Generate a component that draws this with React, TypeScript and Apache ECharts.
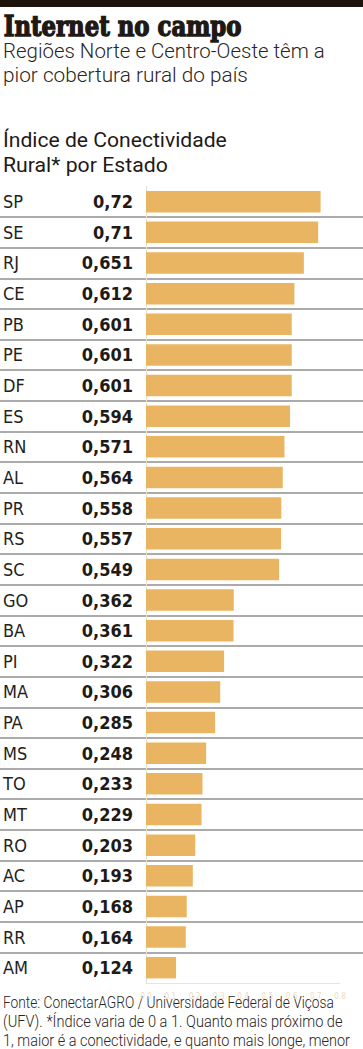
import React, { useEffect, useRef } from "react";
import * as echarts from "echarts";

const states = ["SP","SE","RJ","CE","PB","PE","DF","ES","RN","AL","PR","RS","SC","GO","BA","PI","MA","PA","MS","TO","MT","RO","AC","AP","RR","AM"];
const values = [0.72,0.71,0.651,0.612,0.601,0.601,0.601,0.594,0.571,0.564,0.558,0.557,0.549,0.362,0.361,0.322,0.306,0.285,0.248,0.233,0.229,0.203,0.193,0.168,0.164,0.124];
const xMin = 0;
const xMax = 0.8;
const xStep = 0.1;

const titleText = "Internet no campo";
const subtitleLines = ["Regiões Norte e Centro-Oeste têm a", "pior cobertura rural do país"];
const chartTitleLines = ["Índice de Conectividade", "Rural* por Estado"];
const footerLines = [
  "Fonte: ConectarAGRO / Universidade Federal de Viçosa",
  "(UFV). *Índice varia de 0 a 1. Quanto mais próximo de",
  "1, maior é a conectividade, e quanto mais longe, menor",
];

const SANS = "'Liberation Sans Narrow', 'DejaVu Sans Condensed', 'Roboto', sans-serif";
const NARROW = "Roboto, 'Liberation Sans', sans-serif";

function measure(text: string, font: string): number {
  const c = document.createElement("canvas").getContext("2d")!;
  c.font = font;
  return c.measureText(text).width;
}

function fitted(text: string, font: string, x: number, y: number, right: number, fill: string, stroke = 0) {
  const w = measure(text, font) + stroke;
  const s = w > 0 ? (right - x) / w : 1;
  const style: any = { text, font, fill, verticalAlign: "middle", align: "left" };
  if (stroke > 0) {
    style.stroke = fill;
    style.lineWidth = stroke;
  }
  return { type: "text", x: x + stroke / 2, y, scaleX: s, style };
}

export default function App() {
  const ref = useRef<HTMLDivElement>(null);
  useEffect(() => {
    document.body.style.margin = "0";
    const chart = echarts.init(ref.current!, null, { renderer: "svg" });
    const top = 186.4;
    const bottom = 1049 - 983;
    const titleFont = "bold 27px 'DejaVu Serif', serif";
    const subFont = `300 21px ${NARROW}`;
    const ctFont = `21px ${NARROW}`;
    const footFont = `300 16px ${NARROW}`;
    const subRights = [325, 248];
    const ctRights = [227, 168];
    const footRights = [334, 343, 350];
    chart.setOption({
      animation: false,
      backgroundColor: "#ffffff",
      grid: [
        { left: 146, right: 23, top, bottom },
        { left: 0, right: 0, top, bottom },
      ],
      xAxis: [
        {
          gridIndex: 0,
          type: "value",
          min: xMin,
          max: xMax,
          interval: xStep,
          axisLine: { show: true, lineStyle: { color: "#efe4cf", width: 1 } },
          axisTick: { show: false },
          splitLine: { show: false },
          axisLabel: {
            color: "#eadcc2",
            fontSize: 8,
            margin: 9,
            fontFamily: SANS,
            formatter: (v: number) => v.toFixed(1),
          },
        },
        { gridIndex: 1, type: "value", show: false, min: 0, max: 1 },
      ],
      yAxis: [
        {
          gridIndex: 0,
          type: "category",
          data: states,
          inverse: true,
          axisLine: { show: true, lineStyle: { color: "#e8e0d2", width: 1 } },
          axisTick: { show: false },
          splitLine: { show: false },
          axisLabel: {
            align: "left",
            margin: 143,
            color: "#231f1c",
            fontSize: 18,
            fontFamily: SANS,
          },
        },
        {
          gridIndex: 1,
          type: "category",
          data: states,
          inverse: true,
          axisLine: { show: false },
          axisTick: { show: false },
          axisLabel: { show: false },
          splitLine: {
            show: true,
            showMinLine: false,
            showMaxLine: false,
            lineStyle: { color: "#8f8f8f", width: 1.5 },
          },
        },
      ],
      series: [
        {
          type: "bar",
          xAxisIndex: 0,
          yAxisIndex: 0,
          data: values,
          barWidth: 21.5,
          itemStyle: { color: "#e9b562" },
          label: {
            show: true,
            position: "left",
            distance: 13,
            color: "#1e1a17",
            fontSize: 18,
            fontWeight: "bold",
            fontFamily: SANS,
            formatter: (p: any) => String(p.value).replace(".", ","),
            align: "right",
          },
        },
      ],
      graphic: [
        { type: "rect", shape: { x: 0, y: 0, width: 363, height: 7 }, style: { fill: "#1e140c" } },
        fitted(titleText, titleFont, 3, 27, 242, "#1e1914", 1.4),
        ...subtitleLines.map((t, i) => fitted(t, subFont, 3, 51 + i * 24, subRights[i], "#2a2522")),
        ...chartTitleLines.map((t, i) => fitted(t, ctFont, 3, 140 + i * 25, ctRights[i], "#1e1a17")),
        ...footerLines.map((t, i) => fitted(t, footFont, 3, 1003 + i * 19, footRights[i], "#2a2522")),
      ],
    });
    return () => chart.dispose();
  }, []);
  return <div ref={ref} style={{ width: 363, height: 1049, position: "absolute", left: 0, top: 0 }} />;
}
